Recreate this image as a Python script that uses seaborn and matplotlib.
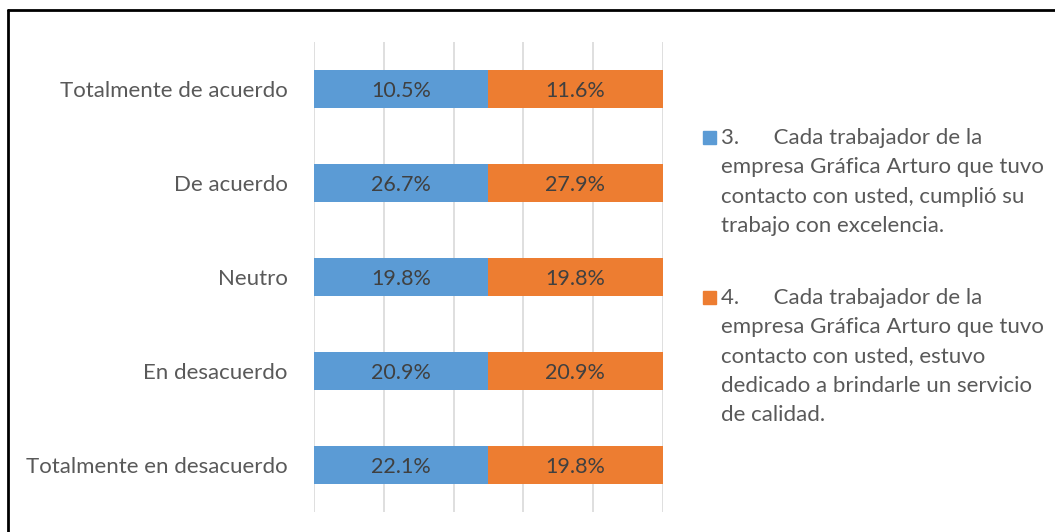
import numpy as np
import pandas as pd
import seaborn as sns
import matplotlib.pyplot as plt
from matplotlib.patches import Rectangle

categorias = ['Totalmente de acuerdo', 'De acuerdo', 'Neutro', 'En desacuerdo', 'Totalmente en desacuerdo']
pct_p3 = [10.5, 26.7, 19.8, 20.9, 22.1]
pct_p4 = [11.6, 27.9, 19.8, 20.9, 19.8]
# segment lengths as drawn in the picture (share of the 100% axis)
largo_p3 = [49.8, 49.8, 49.8, 49.8, 49.8]
largo_p4 = [50.2, 50.2, 50.2, 50.2, 50.2]
series = ['3.      Cada trabajador de la\nempresa Gráfica Arturo que tuvo\ncontacto con usted, cumplió su\ntrabajo con excelencia.',
          '4.      Cada trabajador de la\nempresa Gráfica Arturo que tuvo\ncontacto con usted, estuvo\ndedicado a brindarle un servicio\nde calidad.']

azul = '#5b9bd5'
naranja = '#ed7d31'

df = pd.DataFrame({'cat': categorias, 'p3': largo_p3, 'p4': largo_p4})
df['total'] = df['p3'] + df['p4']

sns.set_style('white')
plt.rcParams['font.family'] = ['Lato', 'DejaVu Sans']

fig = plt.figure(figsize=(10.55, 5.32), dpi=100)
ax = fig.add_axes([314/1055, 1-512/532, 349/1055, 470/532])

sns.barplot(data=df, x='total', y='cat', color=naranja, width=0.4, orient='h', ax=ax,
            saturation=1, linewidth=0)
sns.barplot(data=df, x='p3', y='cat', color=azul, width=0.4, orient='h', ax=ax,
            saturation=1, linewidth=0)

for i in range(len(categorias)):
    ax.text(df['p3'][i]/2, i, f'{pct_p3[i]:.1f}%', ha='center', va='center_baseline', fontsize=15.5, color='#404040')
    ax.text(df['p3'][i] + df['p4'][i]/2, i, f'{pct_p4[i]:.1f}%', ha='center', va='center_baseline', fontsize=15.5, color='#404040')

ax.set_xlim(0, 100)
ax.set_ylim(4.5, -0.5)
ax.set_xticks(np.arange(0, 101, 20))
ax.set_xticklabels([])
ax.xaxis.grid(True, color='#d9d9d9', linewidth=1.2)
ax.set_axisbelow(True)
ax.tick_params(axis='y', length=0, pad=19, labelsize=16, labelcolor='#595959')
ax.tick_params(axis='x', length=0)
ax.set_xlabel('')
ax.set_ylabel('')
sns.despine(ax=ax, left=True, bottom=True)

# legend drawn by hand so the square sits on the first line
for txt, col, ytop in zip(series, [azul, naranja], [128, 288]):
    fig.patches.append(Rectangle((703/1055, 1-(ytop+16)/532), 13/1055, 13/532,
                                 transform=fig.transFigure, color=col))
    fig.text(721/1055, 1-ytop/532, txt, ha='left', va='top', fontsize=16,
             color='#595959', linespacing=1.58)

# outer frame
fig.add_artist(plt.Line2D([8/1055, 8/1055], [0, 1-10/532], color='black', linewidth=2, transform=fig.transFigure))
fig.add_artist(plt.Line2D([8/1055, 1], [1-10/532, 1-10/532], color='black', linewidth=2, transform=fig.transFigure))

fig.savefig('out.png', dpi=100, facecolor='white')
